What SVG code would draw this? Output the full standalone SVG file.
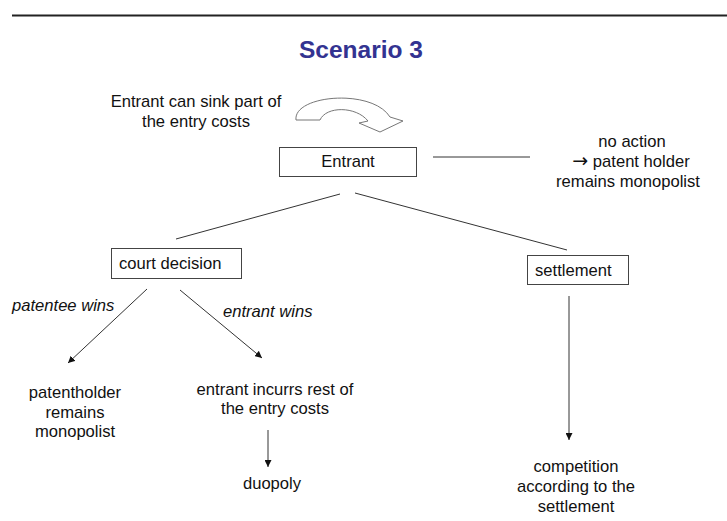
<svg xmlns="http://www.w3.org/2000/svg" width="727" height="521" viewBox="0 0 727 521">
<defs>
<marker id="ah" viewBox="0 0 10 10" refX="10" refY="5" markerWidth="7" markerHeight="7" markerUnits="userSpaceOnUse" orient="auto">
<path d="M0,0 L10,5 L0,10 Z" fill="#111"/>
</marker>
<style>
text{font-family:"Liberation Sans",Arial,sans-serif;font-size:16.6px;fill:#111}
.c{text-anchor:middle}
.i{font-style:italic}
.title{font-size:24.5px;font-weight:bold;fill:#333391}
.sym{font-family:"DejaVu Sans",sans-serif;font-size:19px}
.box{fill:#fff;stroke:#444;stroke-width:1}
.ln{stroke:#333;stroke-width:1;fill:none}
.arr{stroke:#333;stroke-width:1;fill:none;marker-end:url(#ah)}
</style>
</defs>
<rect width="727" height="521" fill="#fff"/>
<line x1="12" y1="15.5" x2="727" y2="15.5" stroke="#222" stroke-width="2.2"/>
<text class="title c" x="361" y="58">Scenario 3</text>

<g id="sink-note">
<text class="c" x="196" y="107">Entrant can sink part of</text>
<text class="c" x="196" y="127">the entry costs</text>
<path d="M296,120 C293,95 372,88 390,117 L403,121 L380,132 L359,123 L368,121 C356,106 326,106 320,120 Z" fill="#fff" stroke="#777" stroke-width="1"/>
</g>

<g id="entrant">
<rect class="box" x="279.5" y="147.5" width="137" height="29"/>
<text class="c" x="348" y="167">Entrant</text>
</g>

<g id="no-action">
<text class="c" x="632" y="147">no action</text>
<text class="c" x="631" y="167"><tspan class="sym">→</tspan> patent holder</text>
<text class="c" x="628" y="187">remains monopolist</text>
</g>

<g id="court-decision">
<rect class="box" x="111.5" y="248.5" width="130" height="30"/>
<text x="119" y="269">court decision</text>
</g>

<g id="settlement">
<rect class="box" x="527.5" y="255.5" width="101" height="29"/>
<text x="535" y="276">settlement</text>
</g>

<g id="patentholder-monopolist">
<text class="c" x="75" y="398">patentholder</text>
<text class="c" x="75" y="418">remains</text>
<text class="c" x="75" y="437">monopolist</text>
</g>

<g id="entrant-incurs">
<text class="c" x="275" y="395">entrant incurrs rest of</text>
<text class="c" x="275" y="414">the entry costs</text>
</g>

<g id="duopoly">
<text class="c" x="272" y="489">duopoly</text>
</g>

<g id="competition">
<text class="c" x="576" y="472">competition</text>
<text class="c" x="576" y="492">according to the</text>
<text class="c" x="576" y="512">settlement</text>
</g>

<g id="connectors">
<line class="ln" x1="433" y1="157" x2="530" y2="157"/>
<line class="ln" x1="340" y1="194" x2="176" y2="239"/>
<line class="ln" x1="355" y1="193" x2="567" y2="250"/>
<line class="arr" x1="147" y1="289" x2="68" y2="363"/>
<line class="arr" x1="180" y1="290" x2="262" y2="358"/>
<line class="arr" x1="268" y1="430" x2="268" y2="467"/>
<line class="arr" x1="569" y1="296" x2="569" y2="440"/>
<text class="i" x="12" y="311">patentee wins</text>
<text class="i" x="223" y="317">entrant wins</text>
</g>
</svg>
